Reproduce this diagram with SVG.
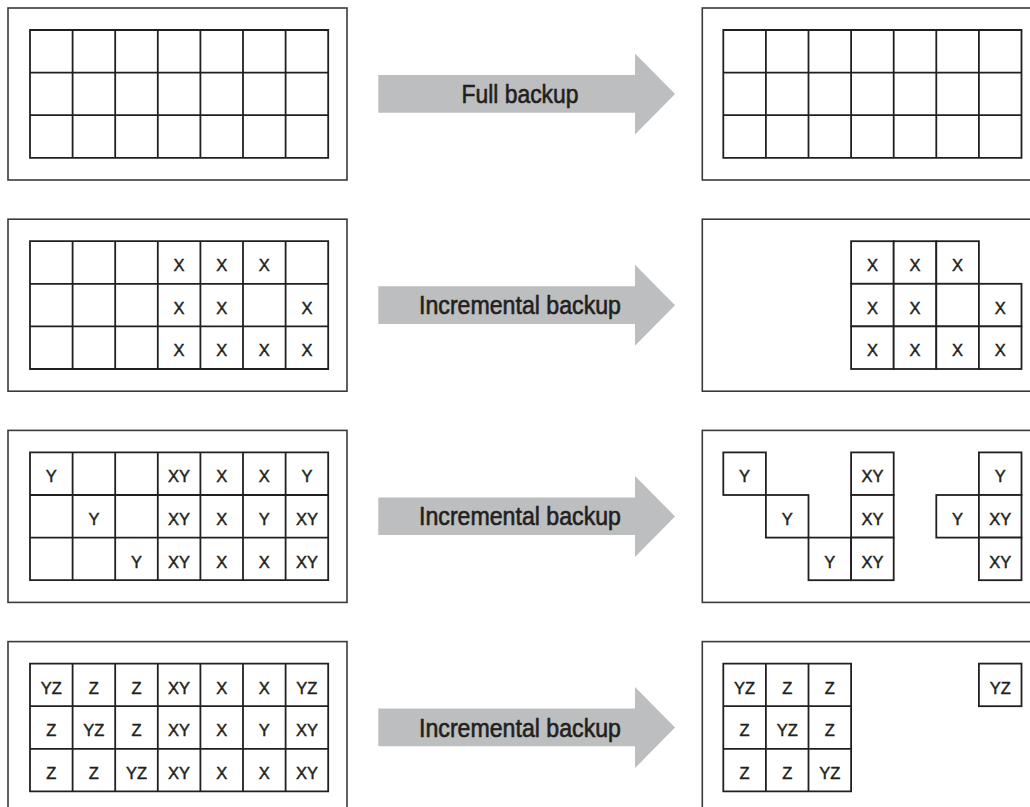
<svg xmlns="http://www.w3.org/2000/svg" width="1030" height="807" viewBox="0 0 1030 807">
<style>
.frame{fill:none;stroke:#3a3a3a;stroke-width:1.6}
.grid{fill:none;stroke:#231f20;stroke-width:1.8}
.cell{fill:#fff;stroke:#231f20;stroke-width:1.8}
.t{font-family:"Liberation Sans",Arial,sans-serif;font-size:16.5px;fill:#231f20;stroke:#231f20;stroke-width:0.45;text-anchor:middle}
.arrow{fill:#bcbec0}
.lbl{font-family:"Liberation Sans",Arial,sans-serif;font-size:25.5px;fill:#231f20;stroke:#231f20;stroke-width:0.6;text-anchor:middle}
</style>
<defs>
<path id="fullgrid" d="M30,22H328.2V149.8H30Z M72.6,22V149.8 M115.2,22V149.8 M157.8,22V149.8 M200.4,22V149.8 M243,22V149.8 M285.6,22V149.8 M30,64.6H328.2 M30,107.2H328.2"/>
<path id="fullgridR" d="M723.3,22H1021.5V149.8H723.3Z M765.9,22V149.8 M808.5,22V149.8 M851.1,22V149.8 M893.7,22V149.8 M936.3,22V149.8 M978.9,22V149.8 M723.3,64.6H1021.5 M723.3,107.2H1021.5"/>
<polygon id="arr" points="378.3,67 635,67 635,45.5 675,86 635,126.5 635,104.7 378.3,104.7"/>
</defs>

<g id="src1" transform="translate(0,8)">
<rect class="frame" x="8" y="0" width="339" height="172"/>
<use href="#fullgrid" class="grid"/>
</g>
<g id="dst1" transform="translate(0,8)">
<rect class="frame" x="702.3" y="0" width="340" height="172"/>
<use href="#fullgridR" class="grid"/>
</g>

<g id="src2" transform="translate(0,219.2)">
<rect class="frame" x="8" y="0" width="339" height="172"/>
<use href="#fullgrid" class="grid"/>
<text class="t" x="179.1" y="52">X</text><text class="t" x="221.7" y="52">X</text><text class="t" x="264.3" y="52">X</text>
<text class="t" x="179.1" y="94.6">X</text><text class="t" x="221.7" y="94.6">X</text><text class="t" x="306.9" y="94.6">X</text>
<text class="t" x="179.1" y="137.2">X</text><text class="t" x="221.7" y="137.2">X</text><text class="t" x="264.3" y="137.2">X</text><text class="t" x="306.9" y="137.2">X</text>
</g>
<g id="dst2" transform="translate(0,219.2)">
<rect class="frame" x="702.3" y="0" width="340" height="172"/>
<rect class="cell" x="851.1" y="22" width="42.6" height="42.6"/><rect class="cell" x="893.7" y="22" width="42.6" height="42.6"/><rect class="cell" x="936.3" y="22" width="42.6" height="42.6"/>
<rect class="cell" x="851.1" y="64.6" width="42.6" height="42.6"/><rect class="cell" x="893.7" y="64.6" width="42.6" height="42.6"/><rect class="cell" x="936.3" y="64.6" width="42.6" height="42.6"/><rect class="cell" x="978.9" y="64.6" width="42.6" height="42.6"/>
<rect class="cell" x="851.1" y="107.2" width="42.6" height="42.6"/><rect class="cell" x="893.7" y="107.2" width="42.6" height="42.6"/><rect class="cell" x="936.3" y="107.2" width="42.6" height="42.6"/><rect class="cell" x="978.9" y="107.2" width="42.6" height="42.6"/>
<text class="t" x="872.4" y="52">X</text><text class="t" x="915" y="52">X</text><text class="t" x="957.6" y="52">X</text>
<text class="t" x="872.4" y="94.6">X</text><text class="t" x="915" y="94.6">X</text><text class="t" x="1000.2" y="94.6">X</text>
<text class="t" x="872.4" y="137.2">X</text><text class="t" x="915" y="137.2">X</text><text class="t" x="957.6" y="137.2">X</text><text class="t" x="1000.2" y="137.2">X</text>
</g>

<g id="src3" transform="translate(0,430.4)">
<rect class="frame" x="8" y="0" width="339" height="172"/>
<use href="#fullgrid" class="grid"/>
<text class="t" x="51.3" y="52">Y</text><text class="t" x="179.1" y="52">XY</text><text class="t" x="221.7" y="52">X</text><text class="t" x="264.3" y="52">X</text><text class="t" x="306.9" y="52">Y</text>
<text class="t" x="93.9" y="94.6">Y</text><text class="t" x="179.1" y="94.6">XY</text><text class="t" x="221.7" y="94.6">X</text><text class="t" x="264.3" y="94.6">Y</text><text class="t" x="306.9" y="94.6">XY</text>
<text class="t" x="136.5" y="137.2">Y</text><text class="t" x="179.1" y="137.2">XY</text><text class="t" x="221.7" y="137.2">X</text><text class="t" x="264.3" y="137.2">X</text><text class="t" x="306.9" y="137.2">XY</text>
</g>
<g id="dst3" transform="translate(0,430.4)">
<rect class="frame" x="702.3" y="0" width="340" height="172"/>
<rect class="cell" x="723.3" y="22" width="42.6" height="42.6"/>
<rect class="cell" x="765.9" y="64.6" width="42.6" height="42.6"/>
<rect class="cell" x="808.5" y="107.2" width="42.6" height="42.6"/>
<rect class="cell" x="851.1" y="22" width="42.6" height="42.6"/><rect class="cell" x="851.1" y="64.6" width="42.6" height="42.6"/><rect class="cell" x="851.1" y="107.2" width="42.6" height="42.6"/>
<rect class="cell" x="978.9" y="22" width="42.6" height="42.6"/><rect class="cell" x="936.3" y="64.6" width="42.6" height="42.6"/><rect class="cell" x="978.9" y="64.6" width="42.6" height="42.6"/><rect class="cell" x="978.9" y="107.2" width="42.6" height="42.6"/>
<text class="t" x="744.6" y="52">Y</text><text class="t" x="872.4" y="52">XY</text><text class="t" x="1000.2" y="52">Y</text>
<text class="t" x="787.2" y="94.6">Y</text><text class="t" x="872.4" y="94.6">XY</text><text class="t" x="957.6" y="94.6">Y</text><text class="t" x="1000.2" y="94.6">XY</text>
<text class="t" x="829.8" y="137.2">Y</text><text class="t" x="872.4" y="137.2">XY</text><text class="t" x="1000.2" y="137.2">XY</text>
</g>

<g id="src4" transform="translate(0,641.6)">
<rect class="frame" x="8" y="0" width="339" height="172"/>
<use href="#fullgrid" class="grid"/>
<text class="t" x="51.3" y="52">YZ</text><text class="t" x="93.9" y="52">Z</text><text class="t" x="136.5" y="52">Z</text><text class="t" x="179.1" y="52">XY</text><text class="t" x="221.7" y="52">X</text><text class="t" x="264.3" y="52">X</text><text class="t" x="306.9" y="52">YZ</text>
<text class="t" x="51.3" y="94.6">Z</text><text class="t" x="93.9" y="94.6">YZ</text><text class="t" x="136.5" y="94.6">Z</text><text class="t" x="179.1" y="94.6">XY</text><text class="t" x="221.7" y="94.6">X</text><text class="t" x="264.3" y="94.6">Y</text><text class="t" x="306.9" y="94.6">XY</text>
<text class="t" x="51.3" y="137.2">Z</text><text class="t" x="93.9" y="137.2">Z</text><text class="t" x="136.5" y="137.2">YZ</text><text class="t" x="179.1" y="137.2">XY</text><text class="t" x="221.7" y="137.2">X</text><text class="t" x="264.3" y="137.2">X</text><text class="t" x="306.9" y="137.2">XY</text>
</g>
<g id="dst4" transform="translate(0,641.6)">
<rect class="frame" x="702.3" y="0" width="340" height="172"/>
<path class="grid" d="M723.3,22H851.1V149.8H723.3Z M765.9,22V149.8 M808.5,22V149.8 M723.3,64.6H851.1 M723.3,107.2H851.1"/>
<rect class="cell" x="978.9" y="22" width="42.6" height="42.6"/>
<text class="t" x="744.6" y="52">YZ</text><text class="t" x="787.2" y="52">Z</text><text class="t" x="829.8" y="52">Z</text>
<text class="t" x="744.6" y="94.6">Z</text><text class="t" x="787.2" y="94.6">YZ</text><text class="t" x="829.8" y="94.6">Z</text>
<text class="t" x="744.6" y="137.2">Z</text><text class="t" x="787.2" y="137.2">Z</text><text class="t" x="829.8" y="137.2">YZ</text>
<text class="t" x="1000.2" y="52">YZ</text>
</g>

<g id="connectors">
<g transform="translate(0,8)"><use href="#arr" class="arrow"/><text class="lbl" x="520" y="95" textLength="117" lengthAdjust="spacingAndGlyphs">Full backup</text></g>
<g transform="translate(0,219.2)"><use href="#arr" class="arrow"/><text class="lbl" x="520" y="95" textLength="202" lengthAdjust="spacingAndGlyphs">Incremental backup</text></g>
<g transform="translate(0,430.4)"><use href="#arr" class="arrow"/><text class="lbl" x="520" y="95" textLength="202" lengthAdjust="spacingAndGlyphs">Incremental backup</text></g>
<g transform="translate(0,641.6)"><use href="#arr" class="arrow"/><text class="lbl" x="520" y="95" textLength="202" lengthAdjust="spacingAndGlyphs">Incremental backup</text></g>
</g>
</svg>
